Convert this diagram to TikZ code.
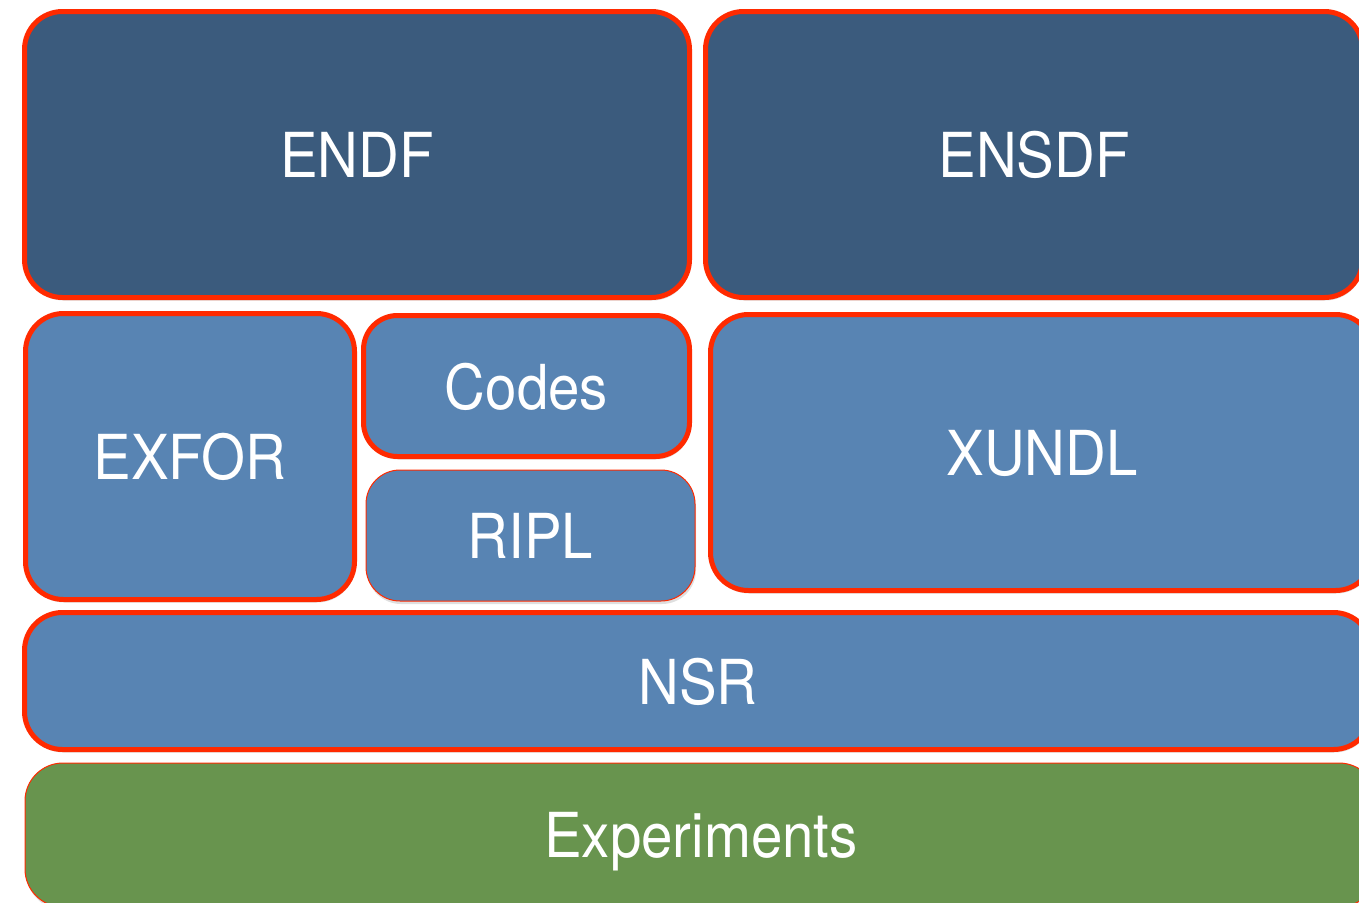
\documentclass[tikz,border=0pt]{standalone}
\usepackage{fontspec}
\setmainfont{TeX Gyre Heros}[FakeStretch=0.91]
\usetikzlibrary{shadows}

\definecolor{edgered}{HTML}{FF2A00}
\definecolor{deepblue}{HTML}{3B5B7D}
\definecolor{paleblue}{HTML}{5884B3}
\definecolor{moss}{HTML}{68944E}

\begin{document}
\begin{tikzpicture}[x=1pt, y=-1pt]
      \useasboundingbox (0, 0) rectangle (1359, 902);
      \clip (0, 0) rectangle (1359, 902);
      \begin{scope}[
        every node/.style={
        draw=edgered,
        line width=5pt,
        rounded corners=38pt,
        inner sep=0pt,
        text=white,
        text depth=0pt,
        font=\fontsize{62}{62}\selectfont,
        drop shadow={shadow xshift=1pt, shadow yshift=-3pt, opacity=.25},
        shape=rectangle,
        },
        thin/.style={line width=1pt}
      ]
        \node[fill=deepblue, minimum width=665pt, minimum height=286pt] (endf) at (357, 154.5) {ENDF};
        \node[fill=deepblue, minimum width=657pt, minimum height=286pt] (ensdf) at (1034, 154.5) {ENSDF};
        \node[fill=paleblue, minimum width=329pt, minimum height=286pt] (exfor) at (190, 456.5) {EXFOR};
        \node[fill=paleblue, minimum width=326pt, minimum height=141pt, rounded corners=34pt] (codes) at (526.5, 386) {Codes};
        \node[fill=paleblue, thin, minimum width=329pt, minimum height=131pt, rounded corners=34pt] (ripl) at (530.5, 535.5) {RIPL};
        \node[fill=paleblue, minimum width=663pt, minimum height=276pt] (xundl) at (1042, 452.5) {XUNDL};
        \node[fill=paleblue, minimum width=1347pt, minimum height=137pt] (nsr) at (698, 681) {NSR};
        \node[fill=moss, thin, minimum width=1352pt, minimum height=144pt] (expt) at (701, 835) {Experiments};
      \end{scope}
    \end{tikzpicture}
\end{document}
